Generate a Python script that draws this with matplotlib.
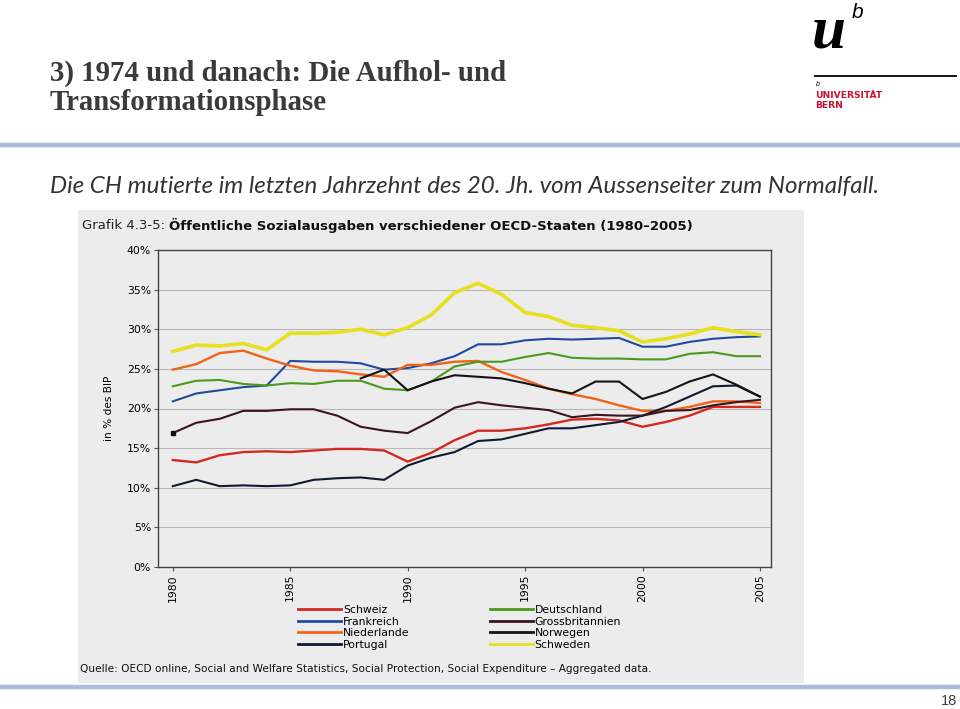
import matplotlib
matplotlib.use("Agg")
import matplotlib.pyplot as plt
import numpy as np
from matplotlib.patches import Rectangle
from matplotlib.lines import Line2D
from matplotlib.text import Annotation

# ---------------- data (in % des BIP) ----------------
years = list(range(1980, 2006))

schweiz = [13.5, 13.2, 14.1, 14.5, 14.6, 14.5, 14.7, 14.9, 14.9, 14.7, 13.3, 14.4, 16.0,
           17.2, 17.2, 17.5, 18.0, 18.6, 18.7, 18.5, 17.7, 18.3, 19.1, 20.2, 20.2, 20.2]
frankreich = [20.9, 21.9, 22.3, 22.7, 22.9, 26.0, 25.9, 25.9, 25.7, 24.9, 25.1, 25.7, 26.6,
              28.1, 28.1, 28.6, 28.8, 28.7, 28.8, 28.9, 27.8, 27.8, 28.4, 28.8, 29.0, 29.1]
niederlande = [24.9, 25.6, 27.0, 27.3, 26.3, 25.4, 24.8, 24.7, 24.3, 24.0, 25.5, 25.5, 25.9,
               26.0, 24.6, 23.6, 22.5, 21.8, 21.2, 20.4, 19.7, 19.7, 20.2, 20.9, 20.9, 20.7]
portugal = [10.2, 11.0, 10.2, 10.3, 10.2, 10.3, 11.0, 11.2, 11.3, 11.0, 12.8, 13.8, 14.5,
            15.9, 16.1, 16.8, 17.5, 17.5, 17.9, 18.3, 19.1, 20.2, 21.5, 22.8, 22.9, 21.5]
deutschland = [22.8, 23.5, 23.6, 23.1, 22.9, 23.2, 23.1, 23.5, 23.5, 22.5, 22.3, 23.4, 25.3,
               25.9, 25.9, 26.5, 27.0, 26.4, 26.3, 26.3, 26.2, 26.2, 26.9, 27.1, 26.6, 26.6]
grossbritannien = [16.9, 18.2, 18.7, 19.7, 19.7, 19.9, 19.9, 19.1, 17.7, 17.2, 16.9, 18.4, 20.1,
                   20.8, 20.4, 20.1, 19.8, 18.9, 19.2, 19.1, 19.1, 19.7, 19.8, 20.4, 20.8, 21.1]
norwegen = [None] * 8 + [23.8, 24.9, 22.3, 23.4, 24.2, 24.0, 23.8, 23.2, 22.5, 21.9, 23.4,
                         23.4, 21.2, 22.1, 23.4, 24.3, 23.0, 21.5]
schweden = [27.2, 28.0, 27.9, 28.2, 27.4, 29.5, 29.5, 29.6, 30.0, 29.3, 30.2, 31.8, 34.6,
            35.8, 34.4, 32.1, 31.6, 30.5, 30.2, 29.8, 28.4, 28.8, 29.4, 30.2, 29.7, 29.3]

yticks = [0, 5, 10, 15, 20, 25, 30, 35, 40]
xticks = [1980, 1985, 1990, 1995, 2000, 2005]

# ---------------- figure / slide ----------------
W, H = 960, 709
fig = plt.figure(figsize=(W / 100, H / 100), dpi=100)
fig.patch.set_facecolor("white")


def fx(px):
    return px / W


def fy(py):
    return 1 - py / H


# slide title
fig.text(fx(50), fy(73), "3) 1974 und danach: Die Aufhol- und", fontsize=20.8,
         family="Liberation Serif", weight="bold", color="#3a3a3a", va="center")
fig.text(fx(50), fy(103), "Transformationsphase", fontsize=20.8,
         family="Liberation Serif", weight="bold", color="#3a3a3a", va="center")

# logo
fig.text(fx(812), fy(48), "u", fontsize=44, family="Liberation Serif", weight="bold",
         style="italic", color="black", va="baseline")
fig.text(fx(852), fy(12), "b", fontsize=15, family="Liberation Sans", style="italic",
         color="black", va="center")
fig.add_artist(Line2D([fx(815), fx(956)], [fy(76), fy(76)], color="black", lw=1.3))
fig.text(fx(816), fy(85), "b", fontsize=5, family="Liberation Sans", style="italic",
         color="black", va="center")
fig.text(fx(815), fy(96), "UNIVERSITÄT", fontsize=6.6, family="DejaVu Sans", weight="bold",
         color="#c8102e", va="center")
fig.text(fx(815), fy(106), "BERN", fontsize=6.6, family="DejaVu Sans", weight="bold",
         color="#c8102e", va="center")

# blue rules
fig.add_artist(Line2D([0, 1], [fy(145), fy(145)], color="#a4bedb", lw=3.2))
fig.add_artist(Line2D([0, fx(958)], [fy(687), fy(687)], color="#a4bedb", lw=3.2))
fig.text(fx(957), fy(701), "18", fontsize=10.5, family="Liberation Sans", color="#404040",
         ha="right", va="center")

# subtitle
fig.text(fx(50), fy(187), "Die CH mutierte im letzten Jahrzehnt des 20. Jh. vom Aussenseiter zum Normalfall.",
         fontsize=17.4, family="Lato", style="italic", color="#333333", va="center")

# scanned chart background
fig.add_artist(Rectangle((fx(78), fy(683)), fx(804) - fx(78), fy(210) - fy(683),
                         transform=fig.transFigure, facecolor="#ececec", edgecolor="none",
                         zorder=0))

t1 = fig.text(fx(82), fy(226), "Grafik 4.3-5: ", fontsize=9.5, family="DejaVu Sans",
              color="#222222", va="center")
fig.add_artist(Annotation(
    "Öffentliche Sozialausgaben verschiedener OECD-Staaten (1980–2005)",
    xy=(1, 0.5), xycoords=t1, va="center", ha="left", fontsize=9.5,
    family="DejaVu Sans", weight="bold", color="#111111"))

fig.text(fx(80), fy(669),
         "Quelle: OECD online, Social and Welfare Statistics, Social Protection, Social Expenditure – Aggregated data.",
         fontsize=7.6, family="DejaVu Sans", color="#111111", va="center")

# ---------------- plot ----------------
left, right, top, bottom = 158, 771, 250, 567
ax = fig.add_axes([fx(left), fy(bottom), fx(right) - fx(left), fy(top) - fy(bottom)])
ax.set_facecolor("#ececec")

series = [
    ("Schweiz", schweiz, "#d42a1e", 1.7),
    ("Frankreich", frankreich, "#1f4a9e", 1.5),
    ("Niederlande", niederlande, "#f0641a", 1.7),
    ("Portugal", portugal, "#101a33", 1.5),
    ("Deutschland", deutschland, "#4a9a1e", 1.5),
    ("Grossbritannien", grossbritannien, "#3a1420", 1.5),
    ("Norwegen", norwegen, "#141414", 1.5),
    ("Schweden", schweden, "#e6e01e", 2.6),
]

for name, vals, col, lw in series:
    v = np.array([np.nan if x is None else x for x in vals], dtype=float)
    ax.plot(years, v, color=col, lw=lw, label=name, solid_joinstyle="miter")

# dot at the start of Grossbritannien
ax.plot(years[0], grossbritannien[0], marker="s", ms=3, color="#111111")

ax.set_xlim(1979.37, 2005.47)
ax.set_ylim(0, 40)
ax.set_yticks(yticks)
ax.set_yticklabels([f"{v}%" for v in yticks], fontsize=7.8, family="DejaVu Sans")
ax.set_xticks(xticks)
ax.set_xticklabels([str(x) for x in xticks], rotation=90, fontsize=7.8, family="DejaVu Sans")
ax.tick_params(axis="both", length=3, width=0.8, color="#555555", pad=2)
ax.grid(axis="y", color="#b8b8b8", lw=0.8)
ax.set_axisbelow(True)
for s in ax.spines.values():
    s.set_color("#444444")
    s.set_linewidth(1.0)
ax.set_ylabel("in % des BIP", fontsize=7.6, family="DejaVu Sans", labelpad=9)

handles, labels = ax.get_legend_handles_labels()
leg = ax.legend(handles, labels, ncol=2, loc="upper left",
                bbox_to_anchor=(fx(298), fy(605)), bbox_transform=fig.transFigure,
                frameon=False, fontsize=7.8, handlelength=4.0, handletextpad=0.15,
                columnspacing=7.4, labelspacing=0.15, borderpad=0, borderaxespad=0)
for line in leg.get_lines():
    line.set_linewidth(2.0)

fig.savefig("out.png", dpi=100)
